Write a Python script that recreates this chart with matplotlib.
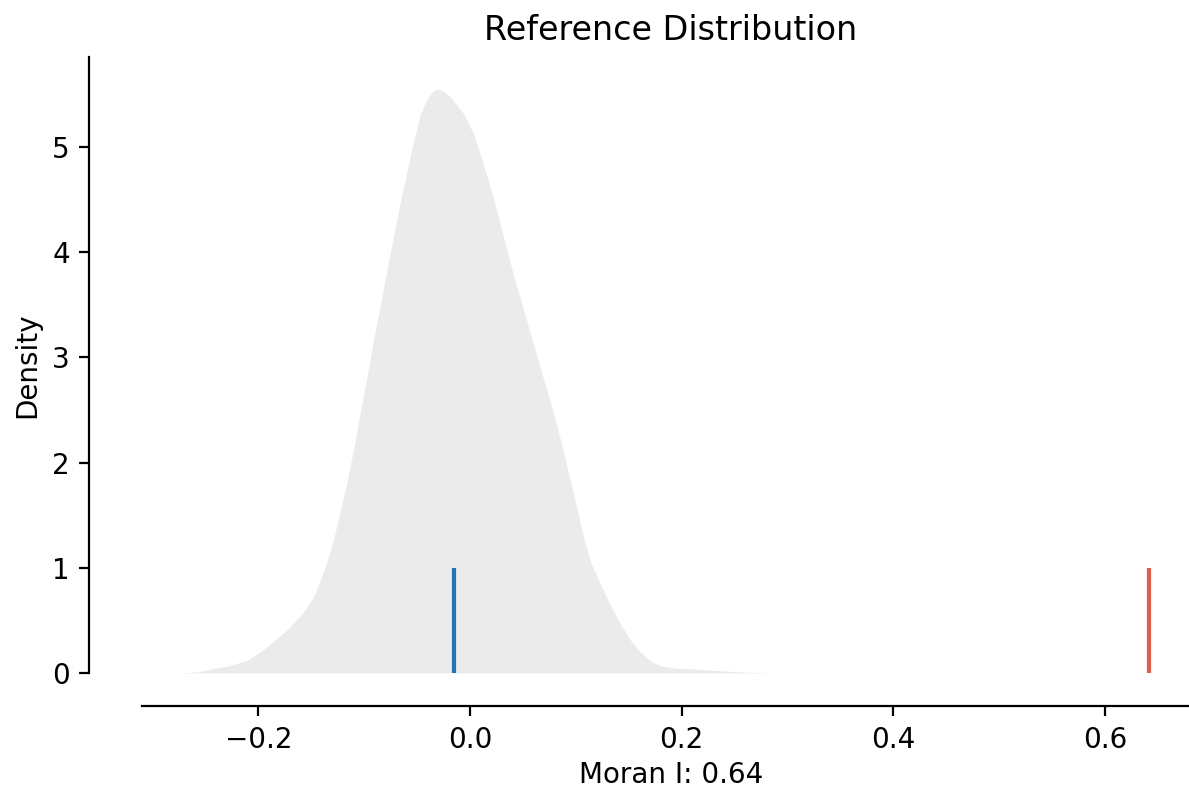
import matplotlib
matplotlib.use("Agg")
import matplotlib.pyplot as plt

# KDE of simulated Moran's I values
kde_x = [-0.275, -0.258, -0.243, -0.227, -0.211, -0.1955, -0.180, -0.170, -0.158,
         -0.148, -0.142, -0.1355, -0.129, -0.123, -0.1166, -0.110, -0.104,
         -0.0977, -0.0914, -0.0851, -0.0788, -0.0725, -0.0662, -0.0599, -0.0536,
         -0.0473, -0.041, -0.036, -0.0315, -0.025, -0.0189, -0.0063, 0.0031,
         0.0126, 0.022, 0.0315, 0.041, 0.0504, 0.0599, 0.0693, 0.0788, 0.0882,
         0.0977, 0.107, 0.1135, 0.123, 0.132, 0.142, 0.151, 0.161, 0.170,
         0.180, 0.195, 0.2175, 0.236, 0.258, 0.274, 0.285]
kde_y = [0.0, 0.01, 0.04, 0.07, 0.12, 0.22, 0.35, 0.44, 0.57,
         0.72, 0.87, 1.05, 1.27, 1.52, 1.80, 2.13, 2.46,
         2.79, 3.15, 3.48, 3.81, 4.14, 4.46, 4.75, 5.04,
         5.30, 5.45, 5.52, 5.55, 5.53, 5.48, 5.32, 5.13,
         4.84, 4.52, 4.15, 3.79, 3.46, 3.13, 2.80, 2.48, 2.11,
         1.71, 1.31, 1.07, 0.85, 0.66, 0.47, 0.32, 0.20, 0.12,
         0.067, 0.045, 0.035, 0.022, 0.01, 0.003, 0.0]
expected_I = -0.0154
observed_I = 0.642
moran_label = 0.64

W, H, DPI = 1189, 788, 200
fig = plt.figure(figsize=(W / DPI, H / DPI), dpi=DPI)
ax = fig.add_axes([142 / W, 115 / H, (1200 - 142) / W, (731 - 115) / H])

ax.fill_between(kde_x, kde_y, 0, color="#bababa", alpha=0.28, linewidth=0)
ax.vlines(expected_I, 0, 1, color="#2575b5", linewidth=1.5)
ax.vlines(observed_I, 0, 1, color="#df5f4f", linewidth=1.5)

ax.set_xlim(-0.310, 0.690)
ax.set_ylim(0, 5.855)
ax.set_xticks([-0.2, 0.0, 0.2, 0.4, 0.6])
ax.set_yticks([0, 1, 2, 3, 4, 5])

for s in ["top", "right"]:
    ax.spines[s].set_visible(False)
ax.spines["left"].set_position(("outward", 19))
ax.spines["bottom"].set_position(("outward", 12))

ax.set_title("Reference Distribution", fontsize=12)
ax.set_xlabel("Moran I: " + str(moran_label), fontsize=10, labelpad=2.5)
ax.set_ylabel("Density", fontsize=10)
ax.tick_params(labelsize=10)

fig.savefig("out.png", dpi=DPI)
